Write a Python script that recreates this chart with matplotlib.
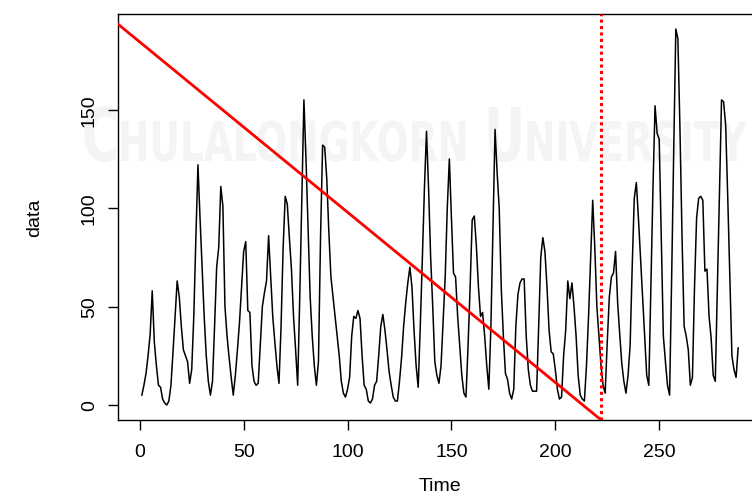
"""Time series `data` with a red trend segment and a dotted change-point marker.

R base-graphics look: box around the panel, out-facing ticks, rotated y labels.
Saves out.png (752x502).
"""
import matplotlib
matplotlib.use('Agg')
import matplotlib.pyplot as plt
from matplotlib.textpath import TextPath
from matplotlib.patches import PathPatch
from matplotlib.font_manager import FontProperties
from matplotlib.transforms import Affine2D


# series values, t = 1..288
data = [
    5, 10, 16, 25, 36, 58, 32, 20, 10, 9,
    3, 1, 0, 2, 10, 27, 45, 63, 55, 40,
    28, 25, 22, 11, 18, 45, 85, 122, 95, 70,
    45, 25, 12, 5, 12, 40, 70, 80, 111, 101,
    50, 35, 24, 14, 5, 15, 28, 42, 60, 78,
    83, 48, 47, 20, 12, 10, 11, 30, 50, 57,
    63, 86, 65, 45, 32, 20, 11, 40, 80, 106,
    102, 85, 69, 45, 28, 10, 55, 105, 155, 125,
    90, 55, 35, 20, 10, 22, 85, 132, 131, 115,
    88, 65, 55, 45, 35, 25, 12, 6, 4, 8,
    14, 35, 45, 44, 48, 44, 25, 10, 8, 2,
    1, 3, 10, 12, 25, 40, 46, 38, 28, 17,
    10, 4, 2, 2, 12, 24, 40, 52, 62, 70,
    60, 38, 20, 9, 40, 74, 110, 139, 110, 75,
    50, 22, 15, 11, 20, 42, 65, 100, 125, 95,
    67, 65, 45, 30, 15, 6, 4, 30, 60, 94,
    96, 81, 60, 45, 47, 35, 20, 8, 40, 90,
    140, 118, 100, 59, 35, 16, 13, 6, 3, 8,
    40, 56, 62, 64, 64, 35, 18, 10, 7, 7,
    7, 40, 75, 85, 78, 60, 38, 27, 26, 18,
    8, 3, 4, 25, 38, 63, 54, 62, 50, 35,
    15, 5, 3, 2, 20, 45, 75, 104, 80, 50,
    35, 20, 10, 6, 32, 55, 65, 67, 78, 52,
    36, 21, 12, 6, 15, 30, 70, 105, 113, 95,
    75, 55, 35, 15, 10, 60, 110, 152, 138, 135,
    85, 35, 22, 10, 5, 65, 130, 191, 186, 140,
    85, 40, 35, 28, 10, 14, 60, 95, 105, 106,
    104, 68, 69, 45, 34, 15, 12, 60, 110, 155,
    154, 142, 105, 65, 25, 18, 14, 29,
]
time = list(range(1, len(data) + 1))

# red trend segment and change point
trend_x = [-10.5, 222]
trend_y = [193.5, -7.6]
change_point = 222

x_ticks = [0, 50, 100, 150, 200, 250]
y_ticks = [0, 50, 100, 150]

FONT = 'Liberation Sans'
W, H = 752, 502


def add_watermark(fig):
    # faint university stamp behind the panel (English line only)
    fp = FontProperties(family='DejaVu Sans', weight='bold')
    px = Affine2D().scale(1 / 100) + fig.dpi_scale_trans
    cap = 0.729
    small = TextPath((0, 0), 'HULALONGKORN', size=1, prop=fp)
    sx = 344 / (small.get_extents().width * 40 / cap)

    def stamp(txt, x0, height, base=162):
        path = TextPath((0, 0), txt, size=1, prop=fp)
        s = height / cap
        tr = Affine2D().scale(s * sx, s).translate(x0, H - base) + px
        fig.add_artist(PathPatch(path, transform=tr, facecolor='#f4f4f4',
                                 edgecolor='none', zorder=0))
        return x0 + path.get_extents().width * s * sx

    stamp('C', 82, 54)
    stamp('HULALONGKORN', 118, 40)
    stamp('U', 484, 54)
    stamp('NIVERSITY', 524, 40)


def main():
    plt.rcParams['font.family'] = [FONT, 'DejaVu Sans']
    fig = plt.figure(figsize=(W / 100, H / 100), dpi=100)
    add_watermark(fig)

    # panel box; right edge falls just outside the picture like the source
    ax = fig.add_axes([118 / W, 1 - 421 / H, (762 - 118) / W, (421 - 15) / H])
    ax.patch.set_alpha(0)

    ax.plot(time, data, color='black', lw=1.1, zorder=3)
    ax.plot(trend_x, trend_y, color='#ff0000', lw=2.0, zorder=4)
    ax.axvline(change_point, color='#ff0000', lw=2.2,
               linestyle=(0, (1, 1.1)), dash_capstyle='butt', zorder=4)

    n = len(data)
    ax.set_xlim(1 - 0.04 * (n - 1), n + 0.04 * (n - 1))
    lo, hi = min(data), max(data)
    ax.set_ylim(lo - 0.04 * (hi - lo), hi + 0.04 * (hi - lo))

    ax.set_xticks(x_ticks)
    ax.set_xticklabels([str(v) for v in x_ticks])
    ax.set_yticks(y_ticks)
    ax.set_yticklabels([str(v) for v in y_ticks], rotation=90, va='center')
    ax.tick_params(axis='both', direction='out', length=7.5, width=1,
                   labelsize=14, color='black')
    ax.tick_params(axis='x', pad=9)
    ax.tick_params(axis='y', pad=7)
    for sp in ax.spines.values():
        sp.set_linewidth(1.0)
        sp.set_color('black')

    fig.text(440 / W, 1 - 487 / H, 'Time', ha='center', va='center', fontsize=14)
    fig.text(35 / W, 1 - 218 / H, 'data', ha='center', va='center',
             rotation=90, fontsize=14)

    fig.savefig('out.png', dpi=100)
    plt.close(fig)


if __name__ == '__main__':
    main()
